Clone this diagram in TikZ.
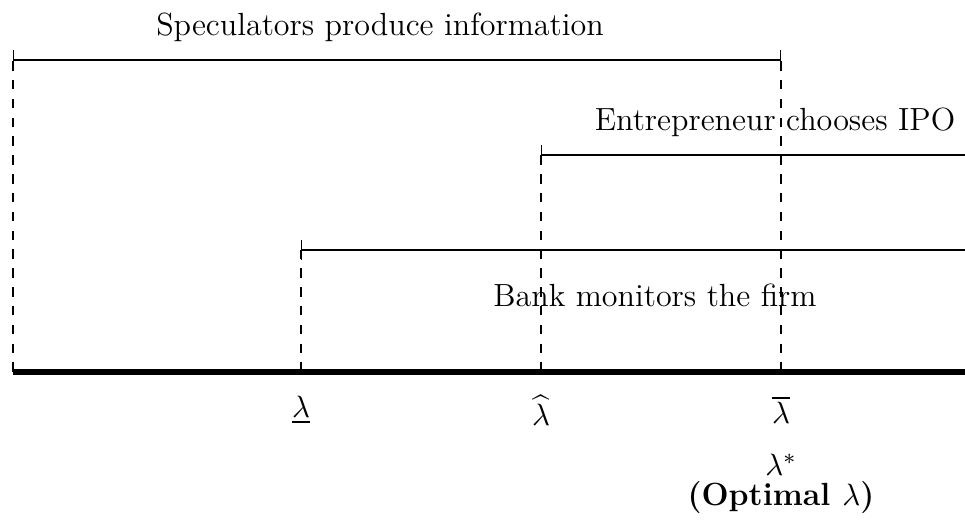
\documentclass[tikz,border=0pt,12pt]{standalone}
\usepackage{amsmath}
\usetikzlibrary{arrows.meta}
\begin{document}
\begin{tikzpicture}[x=1.25cm, y=1.25cm, font=\fontsize{11.4}{14}\selectfont, line join=round]
	\tikzset{spanline/.style={thin}, guide/.style={thin, dash pattern=on 3.4pt off 3.3pt},
		endbar/.tip={Bar[width=7pt]}}
	\useasboundingbox (-0.13,-1.52) rectangle (9.52,3.72);
	% thresholds on the axis
	\coordinate (O) at (0,0);
	\coordinate (lo) at (2.88,0);
	\coordinate (hat) at (5.28,0);
	\coordinate (bar) at (7.68,0);
	\coordinate (end) at (9.52,0);
	% the three ranges
	\coordinate (specL) at (0,3.12); \coordinate (specR) at (7.68,3.12);
	\coordinate (ipoL) at (5.28,2.17); \coordinate (ipoR) at (9.52,2.17);
	\coordinate (bankL) at (2.88,1.22); \coordinate (bankR) at (9.52,1.22);
	\draw[spanline, endbar-endbar] (specL)--(specR);
	\draw[spanline, endbar-] (ipoL)--(ipoR);
	\draw[spanline, endbar-] (bankL)--(bankR);
	\foreach \a/\b in {O/specL, lo/bankL, hat/ipoL, bar/specR}
		\draw[guide] (\a)--(\b);
	\draw[line width=2.1pt] (O)--(end);
	\node (spec) at (3.67,3.45) {Speculators produce information};
	\node (ipo) at (7.62,2.5) {Entrepreneur chooses IPO};
	\node (bank) at (6.42,0.77) {Bank monitors the firm};
	\node (l1) at (2.88,-0.38) {$\underline{\lambda}$};
	\node (l2) at (5.28,-0.38) {$\widehat{\lambda}$};
	\node (l3) at (7.68,-0.38) {$\overline{\lambda}$};
	\node (star) at (7.68,-0.93) {$\lambda^*$};
	\node (opt) at (7.68,-1.25) {\textbf{(Optimal $\lambda$)}};
\end{tikzpicture}
\end{document}
